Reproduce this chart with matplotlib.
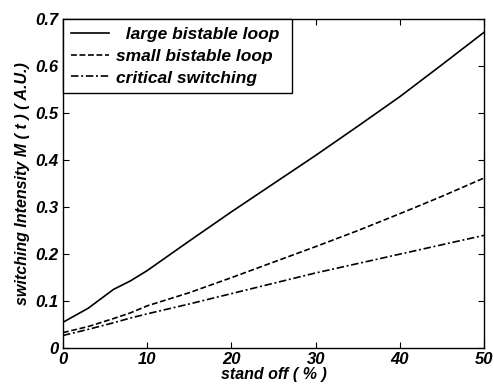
import matplotlib
matplotlib.use("Agg")
import matplotlib.pyplot as plt

x = [0, 3, 6, 8, 10, 15, 20, 25, 30, 35, 40, 45, 50]
large = [0.055, 0.085, 0.125, 0.143, 0.165, 0.228, 0.290, 0.350, 0.410, 0.472, 0.535, 0.603, 0.672]
small = [0.033, 0.046, 0.063, 0.075, 0.090, 0.118, 0.150, 0.183, 0.216, 0.250, 0.286, 0.323, 0.362]
critical = [0.027, 0.040, 0.054, 0.064, 0.073, 0.094, 0.116, 0.138, 0.160, 0.180, 0.200, 0.220, 0.240]
labels = ["large bistable loop", "small bistable loop", "critical switching"]

plt.rcParams['font.family'] = ['Liberation Sans', 'DejaVu Sans']
fig = plt.figure(figsize=(4.94, 3.89), dpi=100)
ax = fig.add_axes([0.1275, 0.105, 0.8525, 0.846])
ax.plot(x, large, 'k-', lw=1.2, label='  ' + labels[0] + ' ')
ax.plot(x, small, color='k', ls=(0, (3.5, 1.6)), lw=1.2, label=labels[1])
ax.plot(x, critical, color='k', ls=(0, (4.5, 1.6, 1.2, 1.6)), lw=1.2, label=labels[2])
ax.set_xlim(0, 50)
ax.set_ylim(0, 0.7)
ax.set_xticks([0, 10, 20, 30, 40, 50])
ax.set_yticks([0, 0.1, 0.2, 0.3, 0.4, 0.5, 0.6, 0.7])
ax.set_yticklabels(['0', '0.1', '0.2', '0.3', '0.4', '0.5', '0.6', '0.7'])
ax.tick_params(direction='in', top=True, right=True, length=4, width=0.8, pad=3)
for lab in ax.get_xticklabels() + ax.get_yticklabels():
    lab.set_fontsize(12)
    lab.set_fontweight('bold')
    lab.set_fontstyle('italic')
for s in ax.spines.values():
    s.set_linewidth(1.0)
ax.set_xlabel('stand off ( % )', fontsize=11.5, fontweight='bold', fontstyle='italic', labelpad=0)
ax.set_ylabel('switching Intensity M ( t ) ( A.U.)', fontsize=11.5, fontweight='bold', fontstyle='italic', labelpad=4)
leg = ax.legend(loc='upper left', borderaxespad=0, fancybox=False, framealpha=1,
                edgecolor='black', handlelength=2.2, handletextpad=0.4,
                prop={'size': 12.5, 'weight': 'bold', 'style': 'italic'},
                borderpad=0.45, labelspacing=0.38)
leg.get_frame().set_linewidth(1.0)
fig.savefig('out.png', dpi=100)
